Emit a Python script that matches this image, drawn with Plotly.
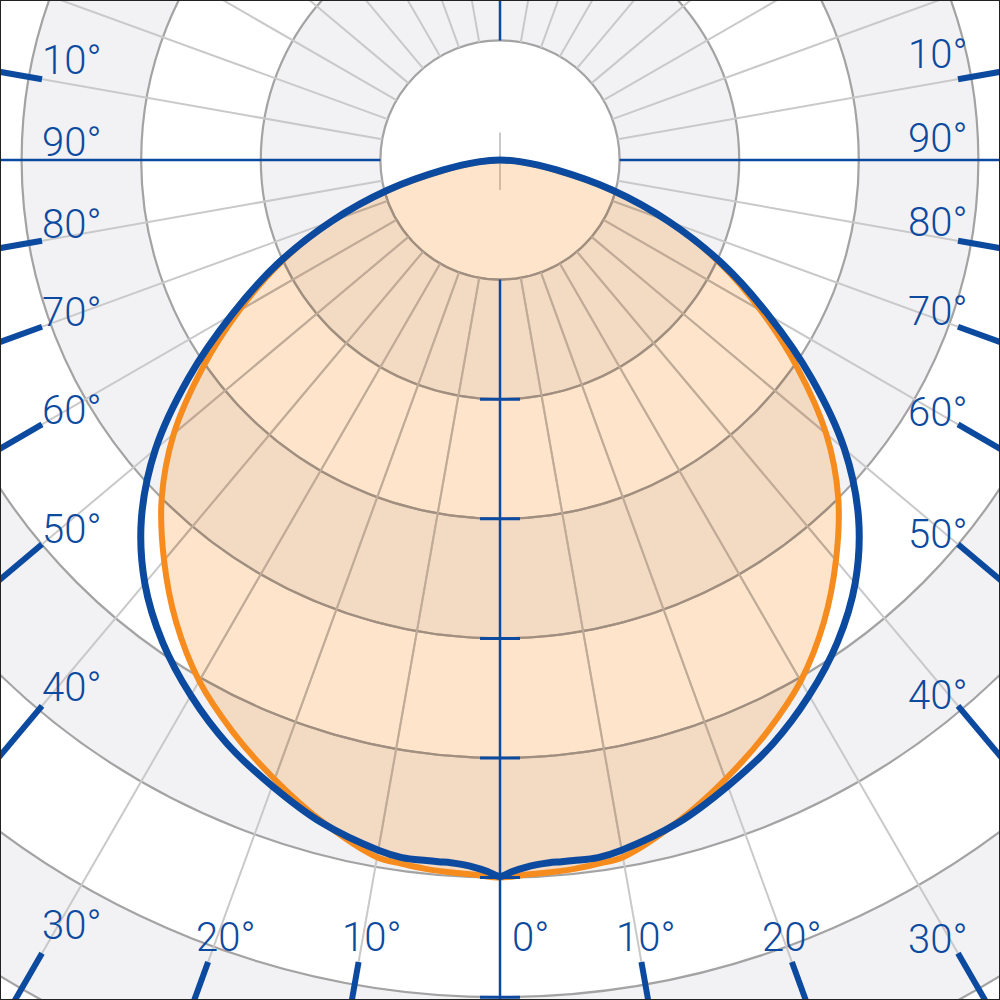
import numpy as np
import plotly.graph_objects as go

# ---------------- data (intensity per angle, one ring = 100) ----------------
blue_angles = [0, 1, 2, 3, 4, 5, 6, 8, 10, 15, 20, 25, 30, 35, 40, 45, 50, 55, 60, 65, 70, 75, 80, 85, 90]
blue_values = [599, 595, 592, 590, 589, 589, 589, 589, 586, 574, 557, 539, 517, 492, 462, 424, 376, 318, 259, 205, 150, 97, 48, 18, 0]

orange_angles = [0, 2, 4, 6, 8, 10, 15, 20, 25, 30, 35, 40, 45, 50, 55, 60, 65, 70, 75, 80, 85, 90]
orange_values = [600, 598, 597, 596, 594, 592, 573, 551, 528, 503, 472, 437, 400, 356, 304, 252, 202, 150, 96, 46, 17, 0]

ring_values = [100, 200, 300, 400, 500, 600, 700, 800]
spoke_angles = list(range(0, 360, 10))
axis_angles = [0, 90, 180, 270]
tick_angles = [10, 20, 30, 40, 50, 60, 70, 80, 100]
label_angles = [0, 10, 20, 30, 40, 50, 60, 70, 80, 90, 100]
label_texts = ["0°", "10°", "20°", "30°", "40°", "50°", "60°", "70°", "80°", "90°", "10°"]

# ---------------- style / layout ----------------
W = H = 1000
CX, CY = 500, 160          # pixel position of the pole
PX_PER_UNIT = 119.6 / 100  # pixels per intensity unit
BLUE = "#0c4aa0"
ORANGE = "#f78c1e"
BAND = "#f2f2f5"
RING = "#a3a3a3"
SPOKE = "#c9c9c9"
RING_IN = "#a08f80"
SPOKE_IN = "#bfab97"
FONT = "Roboto, DejaVu Sans Condensed, sans-serif"
SMOOTH = 1.0


def px_to_data(xp, yp):
    return (xp - CX) / PX_PER_UNIT, (CY - yp) / PX_PER_UNIT


def polar_xy(theta_deg, r, side):
    t = np.radians(theta_deg)
    return side * r * np.sin(t), -r * np.cos(t)


def curve_xy(angles, values):
    a = np.array(angles, float)
    v = np.array(values, float)
    xl, yl = polar_xy(a[::-1], v[::-1], -1)
    xr, yr = polar_xy(a[1:], v[1:], 1)
    return np.concatenate([xl, xr]), np.concatenate([yl, yr])


def orange_r(theta_deg):
    """radius of the orange curve along a ray (angle measured from nadir, either side)"""
    return np.interp(np.abs(theta_deg), orange_angles, orange_values, right=0)


def ray_rect(theta_deg, side, x0, x1, y0, y1):
    t = np.radians(theta_deg)
    dx, dy = side * np.sin(t), np.cos(t)
    cands = []
    if dx > 1e-9:
        cands.append(((x1 - CX) / dx, "side"))
    if dx < -1e-9:
        cands.append(((x0 - CX) / dx, "side"))
    if dy > 1e-9:
        cands.append(((y1 - CY) / dy, "bottom"))
    if dy < -1e-9:
        cands.append(((y0 - CY) / dy, "top"))
    d, edge = min(cands)
    return CX + d * dx, CY + d * dy, edge


fig = go.Figure()
shapes = []

# alternating background bands + inner white disc
band_fill = {800: BAND, 700: "white", 600: BAND, 500: "white", 400: BAND, 300: "white", 200: BAND, 100: "white"}
for r in sorted(ring_values, reverse=True):
    shapes.append(dict(type="circle", xref="x", yref="y", x0=-r, x1=r, y0=-r, y1=r,
                       fillcolor=band_fill[r], line=dict(width=0), layer="below"))
for r in ring_values:
    shapes.append(dict(type="circle", xref="x", yref="y", x0=-r, x1=r, y0=-r, y1=r,
                       line=dict(color=RING, width=2.2), layer="below"))
shapes.append(dict(type="rect", xref="paper", yref="paper", x0=0, x1=1, y0=0, y1=1,
                   line=dict(color="#222222", width=2)))

# grey spokes (every 10 deg, not on the axes)
sx, sy = [], []
r_in, r_out = ring_values[0], 1000
for a in spoke_angles:
    if a in axis_angles:
        continue
    t = np.radians(a)
    sx += [r_in * np.sin(t), r_out * np.sin(t), None]
    sy += [-r_in * np.cos(t), -r_out * np.cos(t), None]
fig.add_trace(go.Scatter(x=sx, y=sy, mode="lines", line=dict(color=SPOKE, width=2), hoverinfo="skip"))

# small grey mark at the pole
fig.add_trace(go.Scatter(x=[0, 0], y=[-25, 23], mode="lines", line=dict(color=SPOKE, width=2), hoverinfo="skip"))

# orange curve fill
ox, oy = curve_xy(orange_angles, orange_values)
fig.add_trace(go.Scatter(x=ox, y=oy, mode="lines", fill="toself",
                         fillcolor="rgba(247,140,30,0.23)",
                         line=dict(color="rgba(0,0,0,0)", width=0, shape="spline", smoothing=SMOOTH),
                         hoverinfo="skip"))

# grid seen through the fill (darker, tinted)
phi = np.radians(np.arange(-180, 180.01, 0.5))
theta_from_nadir = np.degrees(np.abs(phi))
gx, gy = [], []
for r in ring_values:
    inside = r < orange_r(theta_from_nadir) - 1
    xs = np.where(inside, r * np.sin(phi), np.nan)
    ys = np.where(inside, -r * np.cos(phi), np.nan)
    gx += [None if np.isnan(v) else v for v in xs] + [None]
    gy += [None if np.isnan(v) else v for v in ys] + [None]
fig.add_trace(go.Scatter(x=gx, y=gy, mode="lines", line=dict(color=RING_IN, width=2.2), hoverinfo="skip"))

ix, iy = [], []
for a in spoke_angles:
    if a in axis_angles:
        continue
    th = a if a <= 180 else 360 - a
    rr = orange_r(th) - 3
    if rr <= r_in:
        continue
    t = np.radians(a)
    ix += [r_in * np.sin(t), rr * np.sin(t), None]
    iy += [-r_in * np.cos(t), -rr * np.cos(t), None]
fig.add_trace(go.Scatter(x=ix, y=iy, mode="lines", line=dict(color=SPOKE_IN, width=2), hoverinfo="skip"))

# orange outline
fig.add_trace(go.Scatter(x=ox, y=oy, mode="lines",
                         line=dict(color=ORANGE, width=6, shape="spline", smoothing=SMOOTH),
                         hoverinfo="skip"))

# blue axis lines
ax_x, ax_y = [], []
for a in axis_angles:
    t = np.radians(a)
    ax_x += [r_in * np.sin(t), r_out * np.sin(t), None]
    ax_y += [-r_in * np.cos(t), -r_out * np.cos(t), None]
fig.add_trace(go.Scatter(x=ax_x, y=ax_y, mode="lines", line=dict(color=BLUE, width=2.5), hoverinfo="skip"))

# ring ticks on the vertical axis
half = 20 / PX_PER_UNIT
tx, ty = [], []
for r in ring_values[1:]:
    tx += [-half, half, None]
    ty += [-r, -r, None]
fig.add_trace(go.Scatter(x=tx, y=ty, mode="lines", line=dict(color=BLUE, width=3), hoverinfo="skip"))

# blue curve
bx, by = curve_xy(blue_angles, blue_values)
fig.add_trace(go.Scatter(x=bx, y=by, mode="lines",
                         line=dict(color=BLUE, width=7, shape="spline", smoothing=SMOOTH),
                         hoverinfo="skip"))

# thick border ticks on the angle rays
ex, ey = [], []
for a in tick_angles:
    for side in (-1, 1):
        xp, yp, _ = ray_rect(a, side, 42, W - 42, 42, 962)
        t = np.radians(a)
        xo, yo = xp + 90 * side * np.sin(t), yp + 90 * np.cos(t)
        d0 = px_to_data(xp, yp)
        d1 = px_to_data(xo, yo)
        ex += [d0[0], d1[0], None]
        ey += [d0[1], d1[1], None]
fig.add_trace(go.Scatter(x=ex, y=ey, mode="lines", line=dict(color=BLUE, width=6), hoverinfo="skip"))

# angle labels
annotations = []
for a, txt in zip(label_angles, label_texts):
    sides = (1,) if a == 0 else (-1, 1)
    for side in sides:
        xp, yp, edge = ray_rect(a, side, 72, 938, -500, 937)
        if a == 0:
            xp += 30
        elif edge == "side":
            yp += 0.7 * (65 - a) - (4 if side > 0 else 0)
        else:
            xp += 9
        xd, yd = px_to_data(xp, yp)
        annotations.append(dict(x=xd, y=yd, xref="x", yref="y", text=txt, showarrow=False,
                                xanchor="center", yanchor="middle",
                                font=dict(family=FONT, size=40, color=BLUE, weight=300)))

xr = [-(CX) / PX_PER_UNIT, (W - CX) / PX_PER_UNIT]
yr = [-(H - CY) / PX_PER_UNIT, CY / PX_PER_UNIT]
fig.update_layout(
    width=W, height=H, margin=dict(l=0, r=0, t=0, b=0),
    paper_bgcolor="white", plot_bgcolor="white", showlegend=False,
    xaxis=dict(range=xr, visible=False, fixedrange=True),
    yaxis=dict(range=yr, visible=False, fixedrange=True),
    shapes=shapes, annotations=annotations,
)
fig.write_html("out.html", config={"displayModeBar": False, "staticPlot": True},
               post_script="document.body.style.margin='0';document.body.style.padding='0';")
